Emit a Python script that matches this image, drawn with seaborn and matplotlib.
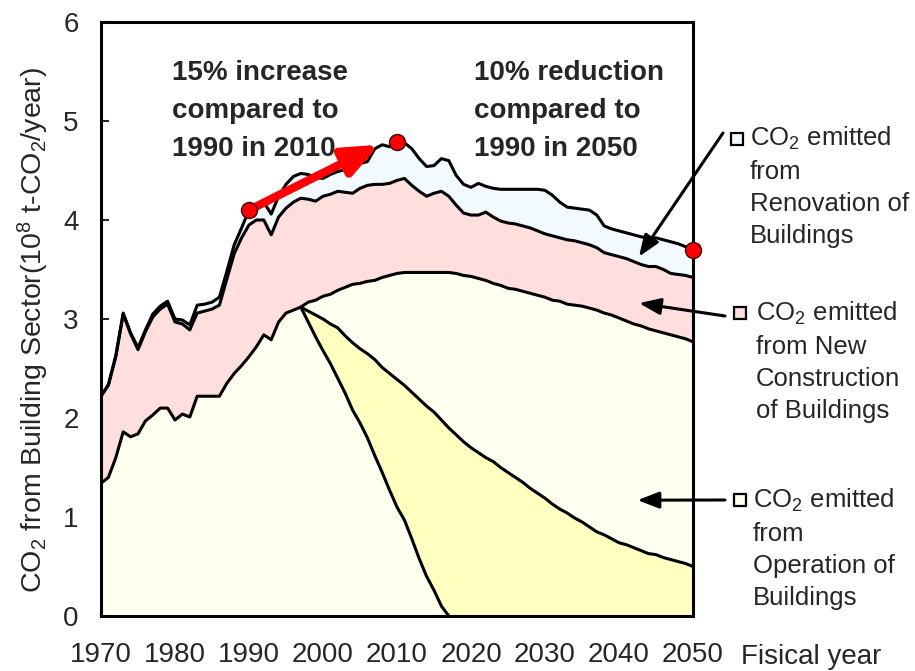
import numpy as np
import pandas as pd
import seaborn as sns
import matplotlib.pyplot as plt

# yearly values (10^8 t-CO2/year)
years = list(range(1970, 2051))

operation = [1.34, 1.40, 1.60, 1.86, 1.81, 1.84, 1.97, 2.03, 2.10, 2.10,
             1.98, 2.04, 2.01, 2.22, 2.22, 2.22, 2.22, 2.35, 2.45, 2.53,
             2.62, 2.72, 2.84, 2.79, 2.97, 3.06, 3.09, 3.12, 3.17, 3.19,
             3.23, 3.25, 3.29, 3.32, 3.35, 3.36, 3.38, 3.39, 3.42, 3.44,
             3.46, 3.47, 3.47, 3.47, 3.47, 3.47, 3.47, 3.47, 3.46, 3.44,
             3.43, 3.41, 3.39, 3.36, 3.34, 3.31, 3.30, 3.28, 3.26, 3.24,
             3.22, 3.19, 3.18, 3.15, 3.14, 3.13, 3.11, 3.09, 3.06, 3.04,
             3.01, 2.98, 2.95, 2.93, 2.90, 2.88, 2.86, 2.84, 2.82, 2.80, 2.77]

new_construction_top = [2.22, 2.33, 2.62, 3.05, 2.85, 2.69, 2.87, 3.02, 3.10, 3.15,
                        2.97, 2.95, 2.89, 3.06, 3.08, 3.10, 3.14, 3.40, 3.66, 3.82,
                        3.95, 4.00, 4.00, 3.85, 4.03, 4.12, 4.18, 4.22, 4.21, 4.19,
                        4.24, 4.26, 4.29, 4.28, 4.27, 4.32, 4.35, 4.36, 4.36, 4.37,
                        4.40, 4.42, 4.35, 4.29, 4.24, 4.27, 4.29, 4.24, 4.15, 4.07,
                        4.05, 4.05, 4.08, 4.03, 3.99, 3.97, 3.96, 3.94, 3.92, 3.89,
                        3.86, 3.84, 3.82, 3.80, 3.79, 3.77, 3.75, 3.72, 3.67, 3.65,
                        3.63, 3.61, 3.58, 3.55, 3.53, 3.53, 3.50, 3.46, 3.45, 3.44, 3.42]

renovation_top = [2.22, 2.34, 2.63, 3.06, 2.86, 2.71, 2.89, 3.05, 3.13, 3.18,
                  3.00, 2.99, 2.94, 3.14, 3.15, 3.17, 3.22, 3.48, 3.75, 3.92,
                  4.10, 4.15, 4.18, 4.06, 4.24, 4.36, 4.44, 4.47, 4.46, 4.43,
                  4.42, 4.46, 4.49, 4.51, 4.54, 4.57, 4.59, 4.72, 4.76, 4.74,
                  4.79, 4.78, 4.72, 4.62, 4.54, 4.55, 4.62, 4.60, 4.45, 4.36,
                  4.33, 4.37, 4.34, 4.32, 4.31, 4.31, 4.31, 4.31, 4.31, 4.31,
                  4.30, 4.25, 4.18, 4.13, 4.12, 4.11, 4.10, 4.05, 3.94, 3.91,
                  3.89, 3.87, 3.85, 3.83, 3.82, 3.82, 3.80, 3.78, 3.76, 3.73, 3.70]

# split of operation emissions after 1997
split_years = list(range(1997, 2051))
existing_gentle = [3.12, 3.08, 3.04, 3.00, 2.95, 2.91, 2.83, 2.76, 2.70, 2.65,
                   2.59, 2.51, 2.45, 2.39, 2.33, 2.26, 2.19, 2.12, 2.06, 1.98,
                   1.90, 1.83, 1.76, 1.70, 1.65, 1.60, 1.56, 1.50, 1.45, 1.40,
                   1.35, 1.29, 1.24, 1.19, 1.13, 1.08, 1.04, 0.99, 0.95, 0.90,
                   0.85, 0.82, 0.78, 0.74, 0.72, 0.69, 0.66, 0.63, 0.62, 0.59,
                   0.57, 0.55, 0.53, 0.50]
existing_steep = [3.12, 2.97, 2.82, 2.68, 2.55, 2.40, 2.25, 2.08, 1.95, 1.80,
                  1.62, 1.45, 1.27, 1.10, 0.97, 0.78, 0.58, 0.40, 0.26, 0.10,
                  0.00, 0, 0, 0, 0, 0, 0, 0, 0, 0, 0, 0, 0, 0, 0, 0, 0, 0, 0, 0,
                  0, 0, 0, 0, 0, 0, 0, 0, 0, 0, 0, 0, 0, 0]

target_years = [1990, 2010, 2050]
target_values = [4.10, 4.79, 3.70]

df = pd.DataFrame({'year': years, 'operation': operation,
                   'newcon': new_construction_top, 'renov': renovation_top})
split = pd.DataFrame({'year': split_years, 'gentle': existing_gentle,
                      'steep': existing_steep})

sns.set_style('ticks')
plt.rcParams['font.family'] = ['Liberation Sans', 'DejaVu Sans']
plt.rcParams['mathtext.default'] = 'regular'

c_renov = '#f2faff'
c_new = '#ffdede'
c_oper = '#fffff0'
c_band = '#ffffc0'

W, H = 915, 671
fig = plt.figure(figsize=(W / 100, H / 100), dpi=100)
ax = fig.add_axes([101 / W, 1 - 616 / H, 592 / W, 594 / H])

ax.fill_between(df['year'], 0, df['operation'], color=c_oper, lw=0)
ax.fill_between(split['year'], split['steep'], split['gentle'], color=c_band, lw=0)
ax.fill_between(df['year'], df['operation'], df['newcon'], color=c_new, lw=0)
ax.fill_between(df['year'], df['newcon'], df['renov'], color=c_renov, lw=0)

lw = 2.2
for col in ['operation', 'newcon', 'renov']:
    sns.lineplot(data=df, x='year', y=col, color='black', lw=lw, ax=ax, legend=False)
sns.lineplot(data=split, x='year', y='gentle', color='black', lw=lw, ax=ax, legend=False)
steep_part = split[split['year'] <= 2017]
sns.lineplot(data=steep_part, x='year', y='steep', color='black', lw=lw, ax=ax, legend=False)

# red increase arrow and target points
ax.annotate('', xy=(2007.6, 4.76), xytext=(target_years[0], target_values[0]),
            arrowprops=dict(arrowstyle='-|>,head_length=0.6,head_width=0.25',
                            color='red', lw=6, mutation_scale=35,
                            shrinkA=0, shrinkB=0), zorder=4)
ax.plot(target_years, target_values, 'o', color='red', mec='#400000', mew=1,
        ms=11.5, clip_on=False, zorder=6)

ax.set_xlim(1970, 2050)
ax.set_ylim(0, 6)
ax.set_xticks(range(1970, 2051, 10))
ax.set_yticks(range(0, 7))
ax.tick_params(axis='x', direction='in', length=6, width=1.5, pad=19, labelsize=20)
ax.tick_params(axis='y', direction='in', length=6, width=1.5, pad=16, labelsize=20)
for s in ax.spines.values():
    s.set_linewidth(2.2)
    s.set_color('black')
ax.set_xlabel('')
ax.set_ylabel(r'CO$_2$ from Building Sector(10$^8$ t-CO$_2$/year)', fontsize=20.5)
ax.yaxis.set_label_coords(-0.085, (616 - 330) / 594)

fig.text(741 / W, 1 - 664 / H, 'Fisical year', fontsize=20, va='baseline')

ax.text(1979.6, 5.62, '15% increase\ncompared to\n1990 in 2010', fontsize=20,
        fontweight='bold', va='top', ha='left', linespacing=1.6)
ax.text(2020.4, 5.62, '10% reduction\ncompared to\n1990 in 2050', fontsize=20,
        fontweight='bold', va='top', ha='left', linespacing=1.6)

# side labels with pointer arrows
labels = ['CO$_2$ emitted\nfrom\nRenovation of\nBuildings',
          'CO$_2$ emitted\nfrom New\nConstruction\nof Buildings',
          'CO$_2$ emitted\nfrom\nOperation of\nBuildings']
colors = [c_renov, c_new, c_oper]
tips = [(2042.7, 3.63), (2042.7, 3.16), (2042.5, 1.17)]
starts = [(723, 133), (725, 316), (725, 500)]
squares = [(737, 139), (740, 313), (740, 500)]
text_pos = [(750, 125), (756, 300), (753, 487)]

for lab, col, tip, st, sq, tp in zip(labels, colors, tips, starts, squares, text_pos):
    ax.annotate('', xy=tip, xycoords='data',
                xytext=(st[0] / W, 1 - st[1] / H), textcoords='figure fraction',
                arrowprops=dict(arrowstyle='-|>,head_length=0.65,head_width=0.25',
                                color='black', lw=2.2, mutation_scale=20,
                                shrinkA=0, shrinkB=0),
                annotation_clip=False)
    ax.plot([sq[0] / W], [1 - sq[1] / H], marker='s', ms=8, mfc=col, mec='black',
            mew=1.6, transform=fig.transFigure, clip_on=False)
    fig.text(tp[0] / W, 1 - tp[1] / H, lab, fontsize=18.5, va='top', ha='left',
             linespacing=1.42)

fig.savefig('out.png', dpi=100)
